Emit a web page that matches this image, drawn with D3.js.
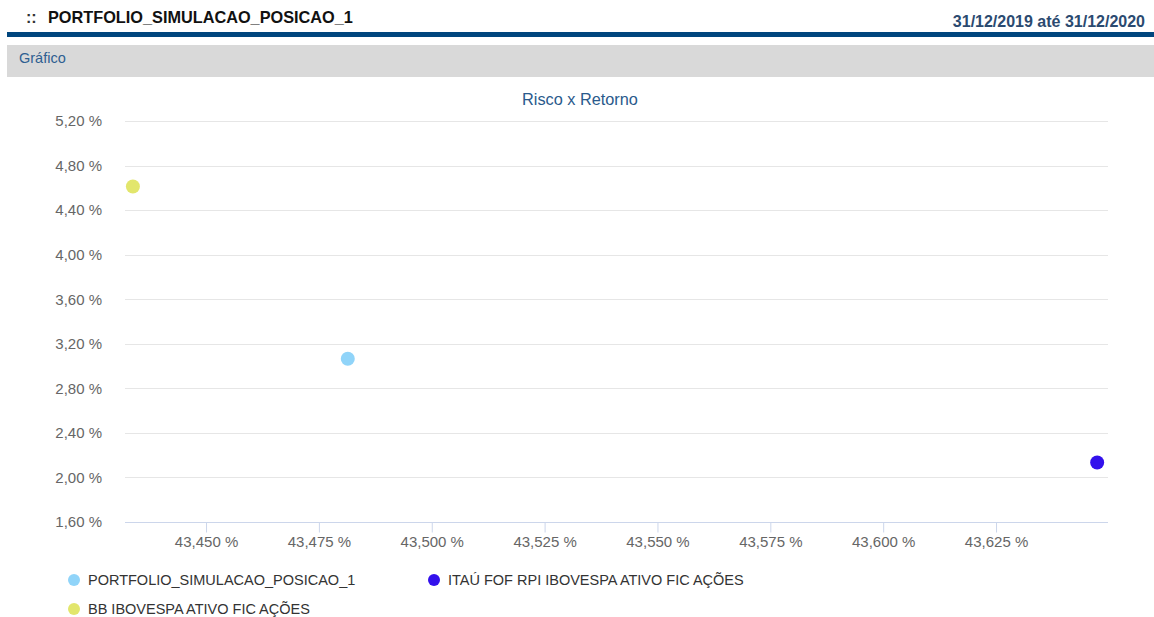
<html>
<head>
<title>Risco x Retorno</title>
<script src="https://d3js.org/d3.v7.min.js"></script>
<style type="text/css">
    body { margin: 0; background: #fff; font-family: "Liberation Sans", Arial, sans-serif; }
    .axis text { font-family: "Liberation Sans", Arial, sans-serif; font-size: 15px; fill: #666; }
    .grid line { stroke: #e6e6e6; }
</style>
</head>
<body>
<svg id="chart" width="1154" height="617"></svg>
<script type="text/javascript">
var names = ['PORTFOLIO_SIMULACAO_POSICAO_1', 'ITAÚ FOF RPI IBOVESPA ATIVO FIC AÇÕES', 'BB IBOVESPA ATIVO FIC AÇÕES'];
var colors = ['#90d4f9', '#3311ec', '#e2e66c'];
var risco = [43.4814, 43.6474, 43.4338];     // x, %
var retorno = [3.065, 2.134, 4.612];         // y, %
var xTicks = [43.450, 43.475, 43.500, 43.525, 43.550, 43.575, 43.600, 43.625];
var yTicks = [1.60, 2.00, 2.40, 2.80, 3.20, 3.60, 4.00, 4.40, 4.80, 5.20];

var data = names.map(function (n, i) {
    return {name: n, color: colors[i], x: risco[i], y: retorno[i]};
});

var svg = d3.select('#chart');
var fmt = function (v, d) { return v.toFixed(d).replace('.', ',') + ' %'; };

// header
svg.append('text').attr('x', 26).attr('y', 23)
    .style('font-size', '16px').style('font-weight', 'bold').style('fill', '#333')
    .text('::');
svg.append('text').attr('x', 48).attr('y', 23)
    .style('font-size', '16.3px').style('font-weight', 'bold').style('fill', '#111')
    .text('PORTFOLIO_SIMULACAO_POSICAO_1');
svg.append('text').attr('x', 1145).attr('y', 27).attr('text-anchor', 'end')
    .style('font-size', '16px').style('font-weight', 'bold').style('fill', '#2b4a70')
    .text('31/12/2019 até 31/12/2020');
svg.append('rect').attr('x', 7).attr('y', 32).attr('width', 1147).attr('height', 5).attr('fill', '#00467e');
svg.append('rect').attr('x', 7).attr('y', 45).attr('width', 1147).attr('height', 32).attr('fill', '#d9d9d9');
svg.append('text').attr('x', 19).attr('y', 63)
    .style('font-size', '14.5px').style('fill', '#2f5f91')
    .text('Gráfico');

// plot
var mLeft = 125, mRight = 1108, mTop = 121, mBottom = 522;
var x = d3.scaleLinear().domain([43.43205, 43.6498]).range([mLeft, mRight]);
var y = d3.scaleLinear().domain([1.60, 5.20]).range([mBottom, mTop]);

svg.append('text').attr('x', 580).attr('y', 105).attr('text-anchor', 'middle')
    .style('font-size', '16.3px').style('fill', '#2a5a8c')
    .text('Risco x Retorno');

svg.append('g').attr('class', 'grid')
    .selectAll('line').data(yTicks.slice(1)).enter().append('line')
    .attr('x1', mLeft).attr('x2', mRight)
    .attr('y1', function (d) { return Math.round(y(d)) + 0.5; })
    .attr('y2', function (d) { return Math.round(y(d)) + 0.5; });

var yAxis = svg.append('g').attr('class', 'axis')
    .attr('transform', 'translate(' + mLeft + ',0)')
    .call(d3.axisLeft(y).tickValues(yTicks).tickSize(0).tickPadding(23)
        .tickFormat(function (d) { return fmt(d, 2); }));
yAxis.select('.domain').remove();
yAxis.selectAll('text').attr('dy', '0.32em');

var xAxis = svg.append('g').attr('class', 'axis')
    .attr('transform', 'translate(0,' + (mBottom + 0.5) + ')')
    .call(d3.axisBottom(x).tickValues(xTicks).tickSize(10).tickPadding(4)
        .tickFormat(function (d) { return fmt(d, 3); }));
xAxis.select('.domain').attr('d', 'M' + mLeft + ',0H' + mRight).attr('stroke', '#ccd6eb');
xAxis.selectAll('line').attr('stroke', '#ccd6eb');

svg.append('g').selectAll('circle').data(data).enter().append('circle')
    .attr('cx', function (d) { return x(d.x); })
    .attr('cy', function (d) { return y(d.y); })
    .attr('r', 7)
    .attr('fill', function (d) { return d.color; });

// legend
var legendPos = [[74, 580], [434, 580], [74, 609]];
var leg = svg.append('g').selectAll('g').data(data).enter().append('g')
    .attr('transform', function (d, i) { return 'translate(' + legendPos[i][0] + ',' + legendPos[i][1] + ')'; });
leg.append('circle').attr('r', 6).attr('fill', function (d) { return d.color; });
leg.append('text').attr('x', 14).attr('dy', '0.35em')
    .style('font-size', '14.5px').style('fill', '#333')
    .text(function (d) { return d.name; });
</script>
</body>
</html>
